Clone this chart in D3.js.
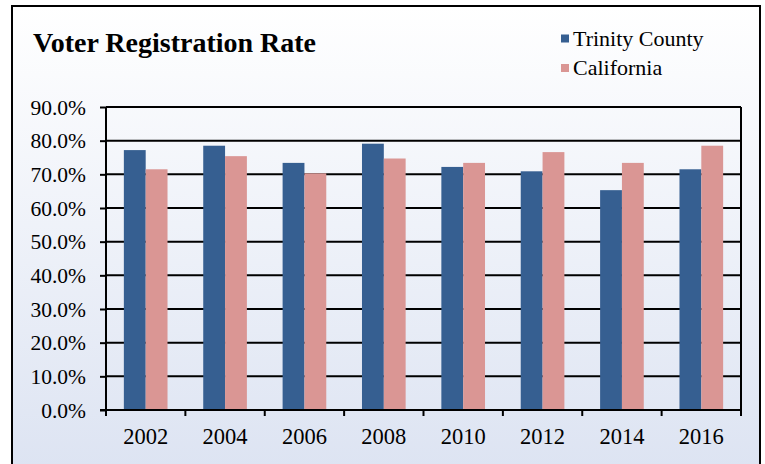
<!DOCTYPE html>
<html>
<head>
<meta charset="utf-8">
<script src="https://cdn.jsdelivr.net/npm/d3@7"></script>
<style>
  html, body { margin: 0; padding: 0; background: #ffffff; }
  svg { display: block; }
  text { font-family: "Liberation Serif", "Times New Roman", serif; fill: #000; }
</style>
</head>
<body>
<svg id="chart" width="765" height="464"></svg>
<script>
// Voter registration rate (%) by election year
const years = ["2002", "2004", "2006", "2008", "2010", "2012", "2014", "2016"];
const trinityCounty = [77.2, 78.5, 73.4, 79.1, 72.2, 70.9, 65.3, 71.5];
const california = [71.5, 75.4, 70.3, 74.7, 73.4, 76.6, 73.4, 78.5];
const seriesNames = ["Trinity County", "California"];
const seriesColors = ["#365f91", "#da9694"];
const yTicks = [0, 10, 20, 30, 40, 50, 60, 70, 80, 90];

const svg = d3.select("#chart");
const W = 765, H = 464;

// background gradient
const defs = svg.append("defs");
const grad = defs.append("linearGradient")
  .attr("id", "bg").attr("x1", 0).attr("y1", 0).attr("x2", 0).attr("y2", 1);
grad.append("stop").attr("offset", "0%").attr("stop-color", "#ffffff");
grad.append("stop").attr("offset", "100%").attr("stop-color", "#dce3f2");

svg.append("rect").attr("x", 0).attr("y", 0).attr("width", W).attr("height", H)
  .attr("fill", "#ffffff");
svg.append("rect").attr("x", 12).attr("y", 6).attr("width", 748).attr("height", H + 10)
  .attr("fill", "url(#bg)").attr("stroke", "#000").attr("stroke-width", 2);

const plot = { left: 106, right: 741, top: 107, bottom: 410 };

const x0 = d3.scaleBand().domain(years).range([plot.left, plot.right]).paddingInner(0.45).paddingOuter(0.225);
const x1 = d3.scaleBand().domain(seriesNames).range([0, x0.bandwidth()]);
const y = d3.scaleLinear().domain([0, 90]).range([plot.bottom, plot.top]);
const xOuter = d3.scaleBand().domain(years).range([plot.left, plot.right]);

// gridlines
svg.append("g").selectAll("line").data(yTicks.filter(d => d > 0)).join("line")
  .attr("x1", plot.left).attr("x2", plot.right)
  .attr("y1", d => y(d)).attr("y2", d => y(d))
  .attr("stroke", "#000").attr("stroke-width", 2);

// right border of plot
svg.append("line").attr("x1", plot.right).attr("x2", plot.right)
  .attr("y1", plot.top).attr("y2", plot.bottom)
  .attr("stroke", "#000").attr("stroke-width", 2);

// bars
const rows = years.map((yr, i) => ({ year: yr, values: [trinityCounty[i], california[i]] }));
const groups = svg.append("g").selectAll("g").data(rows).join("g")
  .attr("transform", d => `translate(${x0(d.year)},0)`);
groups.selectAll("rect").data(d => d.values.map((v, j) => ({ v, s: seriesNames[j], c: seriesColors[j] })))
  .join("rect")
  .attr("x", d => x1(d.s))
  .attr("width", x1.bandwidth())
  .attr("y", d => y(d.v))
  .attr("height", d => y(0) - y(d.v))
  .attr("fill", d => d.c);

// y axis
const yAxis = d3.axisLeft(y).tickValues(yTicks).tickSize(6).tickPadding(14)
  .tickFormat(d => d3.format(".1f")(d) + "%");
const gy = svg.append("g").attr("transform", `translate(${plot.left},0)`).call(yAxis);
gy.select(".domain").attr("stroke", "#000").attr("stroke-width", 2).attr("d", `M0,${plot.top}V${plot.bottom}`);
gy.selectAll(".tick line").attr("stroke", "#000").attr("stroke-width", 2);
gy.selectAll(".tick text").style("font-size", "21.5px").attr("font-family", "Liberation Serif, serif").attr("fill", "#000").attr("dy", "0.34em");

// x axis
const gx = svg.append("g").attr("transform", `translate(0,${plot.bottom})`);
gx.append("line").attr("x1", plot.left - 6).attr("x2", plot.right + 1)
  .attr("stroke", "#000").attr("stroke-width", 2);
const xTickPos = years.map(yr => xOuter(yr)).concat([plot.right]);
gx.selectAll("line.tk").data(xTickPos).join("line").attr("class", "tk")
  .attr("x1", d => d).attr("x2", d => d).attr("y1", 0).attr("y2", 6)
  .attr("stroke", "#000").attr("stroke-width", 2);
gx.selectAll("text").data(years).join("text")
  .attr("x", d => xOuter(d) + xOuter.bandwidth() / 2)
  .attr("y", 34)
  .attr("text-anchor", "middle")
  .style("font-size", "22.5px")
  .text(d => d);

// title
svg.append("text").attr("x", 33).attr("y", 52)
  .style("font-size", "28px").style("font-weight", "bold")
  .text("Voter Registration Rate");

// legend
const legend = svg.append("g").selectAll("g").data(seriesNames).join("g")
  .attr("transform", (d, i) => `translate(561,${34.5 + i * 29.5})`);
legend.append("rect").attr("width", 8).attr("height", 8).attr("fill", (d, i) => seriesColors[i]);
legend.append("text").attr("x", 12).attr("y", 11.2).style("font-size", "22px").text(d => d);
</script>
</body>
</html>
